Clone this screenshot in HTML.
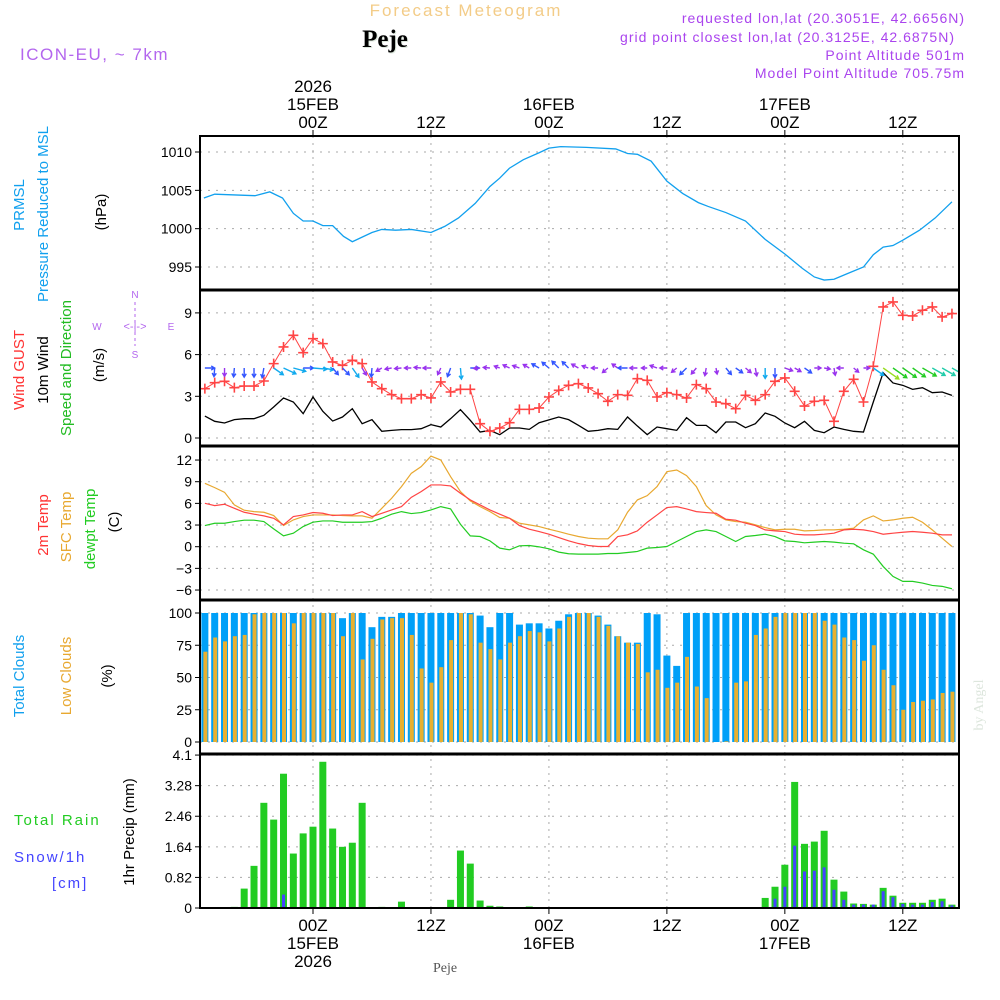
<!DOCTYPE html>
<html><head><meta charset="utf-8"><style>
html,body{margin:0;padding:0;background:#fff;}
svg{display:block;font-family:"Liberation Sans",sans-serif;}
</style></head><body>
<svg id="chart" width="1000" height="1000" viewBox="0 0 1000 1000" xmlns="http://www.w3.org/2000/svg">
<rect width="1000" height="1000" fill="#fff"/>
<g>
<text x="466" y="16" text-anchor="middle" font-size="17" fill="#f3cc88" letter-spacing="2">Forecast Meteogram</text>
<text x="386" y="48" text-anchor="middle" font-size="25" font-weight="bold" font-family="Liberation Serif,serif" fill="#dde8dd">Peje</text>
<text x="385" y="47" text-anchor="middle" font-size="25" font-weight="bold" font-family="Liberation Serif,serif" fill="#000">Peje</text>
<text x="20" y="60" font-size="17" fill="#b366ee" letter-spacing="1.5">ICON-EU, ~ 7km</text>
<text x="965" y="23" text-anchor="end" font-size="14" fill="#aa44ee" letter-spacing="1">requested lon,lat (20.3051E, 42.6656N)</text>
<text x="955" y="42" text-anchor="end" font-size="14" fill="#aa44ee" letter-spacing="1">grid point closest lon,lat (20.3125E, 42.6875N)</text>
<text x="965" y="60" text-anchor="end" font-size="14" fill="#aa44ee" letter-spacing="1">Point Altitude 501m</text>
<text x="965" y="78" text-anchor="end" font-size="14" fill="#aa44ee" letter-spacing="1">Model Point Altitude 705.75m</text>
</g>
<g font-size="15">
<text transform="translate(24,205) rotate(-90)" text-anchor="middle" fill="#11a0ee">PRMSL</text>
<text transform="translate(48,214) rotate(-90)" text-anchor="middle" fill="#11a0ee">Pressure Reduced to MSL</text>
<text transform="translate(106,212) rotate(-90)" text-anchor="middle" fill="#000">(hPa)</text>
<text transform="translate(24,370) rotate(-90)" text-anchor="middle" fill="#ff3333">Wind GUST</text>
<text transform="translate(48,370) rotate(-90)" text-anchor="middle" fill="#000">10m Wind</text>
<text transform="translate(71,368) rotate(-90)" text-anchor="middle" fill="#22bb22">Speed and Direction</text>
<text transform="translate(104,365) rotate(-90)" text-anchor="middle" fill="#000">(m/s)</text>
<g fill="#b366ee" font-size="10">
<text x="135" y="298" text-anchor="middle">N</text><text x="97" y="330" text-anchor="middle">W</text><text x="171" y="330" text-anchor="middle">E</text><text x="135" y="358" text-anchor="middle">S</text>
<text x="135" y="330" text-anchor="middle" font-size="11">&lt;-|-&gt;</text>
<line x1="135" y1="302" x2="135" y2="346" stroke="#b366ee" stroke-dasharray="3,3"/>
</g>
<text transform="translate(48,525) rotate(-90)" text-anchor="middle" fill="#ff3333">2m Temp</text>
<text transform="translate(71,527) rotate(-90)" text-anchor="middle" fill="#e8a830">SFC Temp</text>
<text transform="translate(95,529) rotate(-90)" text-anchor="middle" fill="#22cc22">dewpt Temp</text>
<text transform="translate(119,522) rotate(-90)" text-anchor="middle" fill="#000">(C)</text>
<text transform="translate(24,676) rotate(-90)" text-anchor="middle" fill="#11a0ee">Total Clouds</text>
<text transform="translate(71,676) rotate(-90)" text-anchor="middle" fill="#e8a830">Low Clouds</text>
<text transform="translate(112,676) rotate(-90)" text-anchor="middle" fill="#000">(%)</text>
<text x="14" y="825" fill="#22cc22" letter-spacing="2">Total   Rain</text>
<text x="14" y="862" fill="#4444ff" letter-spacing="2">Snow/1h</text>
<text x="52" y="888" fill="#4444ff" letter-spacing="2">[cm]</text>
<text transform="translate(134,832) rotate(-90)" text-anchor="middle" fill="#000">1hr Precip (mm)</text>
</g>
<text transform="translate(983,705) rotate(-90)" text-anchor="middle" font-size="14" font-family="Liberation Serif,serif" fill="#dde6dd">by Angel</text>
<text x="445" y="972" text-anchor="middle" font-size="14" font-family="Liberation Serif,serif" fill="#555">Peje</text>
<g id="plot"></g>
</svg>
<script>
// ---- data (hourly, t = hours from 15FEB 00Z) ----
const presTimes=[-11.1,-10,-5.9,-4.4,-3.1,-2,-1,0,1,2,3.1,4,5,6,7,8.4,10,12,13.4,14.8,16.5,18,19,20,21.4,23,24,25.2,27.8,30.8,32,33,34.4,36,37.6,39.2,40.2,42,44,46,48,49.8,51,52,53,54.3,56,57,58,59,60,61.7,63.3,65];
const presVals=[1004,1004.5,1004.3,1004.8,1004,1002,1001,1001,1000.4,1000.4,999,998.3,998.9,999.5,999.9,999.8,999.9,999.5,1000.3,1001.4,1003.3,1005.5,1006.6,1007.9,1009,1009.9,1010.5,1010.7,1010.6,1010.4,1009.8,1009.7,1008.8,1006.2,1004.6,1003.4,1002.9,1002.1,1001,998.6,996.7,994.8,993.7,993.3,993.4,994.1,995,996.6,997.6,997.8,998.5,999.8,1001.4,1003.5];
const hourStart=-11;
const gust=[3.55,3.98,4.08,3.62,3.74,3.74,4.1,5.35,6.55,7.39,6.14,7.15,6.79,5.47,5.23,5.59,5.35,4.03,3.55,3.12,2.83,2.83,3.12,2.88,4.03,3.31,3.5,3.5,1.03,0.48,0.72,1.1,2.06,2.06,2.16,2.95,3.43,3.79,3.91,3.6,3.19,2.64,3.12,3.07,4.27,4.15,2.95,3.26,3.12,2.88,3.84,3.55,2.59,2.47,2.11,3.07,2.71,3.12,4.08,4.32,3.36,2.3,2.64,2.71,1.2,3.36,4.22,2.59,5.16,9.43,9.79,8.83,8.78,9.19,9.43,8.71,8.95];
const wspd=[1.58,1.2,1.08,1.32,1.39,1.39,1.63,2.23,2.88,2.59,1.75,2.95,1.92,1.22,1.51,2.11,1.03,1.32,0.48,0.55,0.6,0.6,0.67,0.96,0.79,1.39,2.04,1.27,0.43,0.55,0.24,0.72,0.72,0.62,1.1,1.3,1.51,1.32,0.91,0.48,0.55,0.67,0.62,1.51,0.86,0.24,0.79,0.67,0.55,1.46,0.91,0.91,0.38,1.15,1.15,0.74,1.03,1.8,1.56,1.08,0.74,1.2,0.55,0.38,0.79,0.62,0.48,0.43,2.59,4.7,3.96,3.79,3.5,3.62,3.26,3.31,3.07];
const wdir=[0,95,90,95,90,90,100,35,25,15,0,5,10,50,45,55,60,95,150,170,175,180,185,180,115,110,85,0,175,185,200,205,200,210,210,220,225,225,210,200,180,140,215,180,180,180,200,180,140,135,130,100,80,50,35,40,80,90,90,20,30,35,0,10,80,180,40,0,35,35,35,35,35,30,30,30,30];
const t2m=[6.01,5.69,5.88,5.32,4.77,4.5,4.27,3.94,3.02,4.17,4.4,4.73,4.63,4.31,4.4,4.4,4.86,4.17,4.63,5.09,5.55,6.84,7.63,8.55,8.55,8.41,7.4,6.48,5.78,5.09,4.5,3.94,2.93,2.42,2.1,1.73,1.27,0.81,0.44,0.17,0.03,0.03,1.41,1.64,2.19,3.39,4.4,5.42,5.55,5.23,4.86,4.73,4.63,3.8,3.67,3.25,2.93,2.33,2.19,2.1,1.73,1.64,1.64,1.73,1.87,2.33,2.42,2.33,2.1,1.73,1.87,2.0,2.1,2.0,1.87,1.64,1.64];
const tsfc=[8.78,8.18,7.53,5.78,5.05,4.86,4.77,4.31,2.93,3.71,4.17,4.4,4.4,4.4,4.31,4.27,4.27,3.94,5.32,6.71,8.32,10.16,11.08,12.55,12.0,9.7,7.63,6.34,5.55,4.86,4.04,3.94,3.25,3.02,2.79,2.42,2.1,1.73,1.41,1.18,1.09,1.09,2.33,4.77,6.48,7.07,8.32,10.39,10.62,9.84,8.32,5.69,4.4,3.71,3.48,3.39,3.02,2.65,2.33,2.42,2.42,2.19,2.24,2.33,2.33,2.42,2.56,3.71,4.27,3.57,3.71,3.94,4.08,3.39,2.33,1.18,0.03];
const tdew=[2.93,3.25,3.25,3.48,3.67,3.67,3.48,2.47,1.5,1.87,2.79,3.39,3.57,3.57,3.39,3.39,3.39,3.48,3.94,4.5,4.86,4.59,4.73,5.09,5.55,5.23,3.11,1.5,1.41,0.81,-0.2,-0.43,0.12,0.17,-0.02,-0.29,-0.75,-0.98,-1.03,-1.03,-1.03,-0.94,-0.94,-0.8,-0.66,-0.2,-0.11,0.03,0.72,1.41,2.1,2.33,2.1,1.41,0.72,1.41,1.55,1.73,1.41,0.81,0.72,0.54,0.63,0.72,0.63,0.49,0.4,-0.43,-1.03,-2.73,-4.11,-4.8,-4.8,-5.03,-5.36,-5.49,-5.82];
const totalClouds=[100,100,100,100,100,100,100,100,100,100,100,100,100,100,96,100,100,89,97,97,100,100,100,100,100,100,100,100,98,89,100,100,91,92,92,88,94,99,100,100,98,91,82,77,77,100,99,67,59,100,100,100,100,100,100,100,100,100,100,100,100,100,100,100,100,100,100,100,100,100,100,100,100,100,100,100,100];
const lowClouds=[70,81,78,82,83,99,100,100,100,92,100,100,100,100,82,100,64,80,95,96,96,83,57,46,58,79,100,99,77,72,64,77,82,86,85,78,88,97,100,100,97,90,82,77,76,54,56,42,46,66,43,34,0,0.5,46,47,83,88,97,100,100,100,100,94,91,81,79,63,75,56,44,25,31,32,33,38,39];
const rain=[0,0,0,0.03,0.52,1.13,2.82,2.37,3.6,1.46,2.0,2.18,3.92,2.13,1.64,1.75,2.82,0,0.03,0,0.17,0,0,0,0,0.22,1.54,1.19,0.2,0.06,0.04,0,0,0.04,0,0,0,0,0,0,0,0,0,0,0,0,0,0,0,0,0,0,0,0,0,0,0,0.27,0.57,1.16,3.38,1.72,1.78,2.07,0.76,0.44,0.12,0.11,0.09,0.54,0.33,0.14,0.14,0.14,0.22,0.25,0.09];
const snow=[0,0,0,0,0,0,0,0,0.36,0,0,0,0,0,0,0,0,0,0,0,0,0,0,0,0,0,0,0,0,0,0,0,0,0,0,0,0,0,0,0,0,0,0,0,0,0,0,0,0,0,0,0,0,0,0,0,0,0,0.25,0.57,1.67,0.98,1.0,1.09,0.49,0.22,0.09,0.09,0.09,0.45,0.29,0.11,0.09,0.09,0.16,0.18,0.07];
const gridHours=[0,12,24,36,48,60];
const topTimeLabels=[["2026","15FEB","00Z"],["","","12Z"],["","16FEB","00Z"],["","","12Z"],["","17FEB","00Z"],["","","12Z"]];
const botTimeLabels=[["00Z","15FEB","2026"],["12Z","",""],["00Z","16FEB",""],["12Z","",""],["00Z","17FEB",""],["12Z","",""]];
const presTicks=[995,1000,1005,1010];
const windTicks=[0,3,6,9];
const tempTicks=[-6,-3,0,3,6,9,12];
const cloudTicks=[0,25,50,75,100];
const precipTicks=["0","0.82","1.64","2.46","3.28","4.1"];

// ---- axes ----
const L=200,R=959;
const xT=t=>313+t*9.83;
const yP=v=>152+(1010-v)*7.667;
const yW=v=>438-v*13.9;
const yT=v=>546.7-v*7.222;
const yC=v=>742-v*1.29;
const yR=v=>908-v*37.3;
const panels=[[136,290],[290,446],[446,600],[600,754],[754,908]];

const NS='http://www.w3.org/2000/svg';
const plot=document.getElementById('plot');
function mk(tag,attrs,parent){const e=document.createElementNS(NS,tag);for(const k in attrs)e.setAttribute(k,attrs[k]);(parent||plot).appendChild(e);return e;}
const clip=mk('clipPath',{id:'pc'});mk('rect',{x:L,y:136,width:R-L,height:772},clip);

// gridlines
const grid=mk('g',{});


gridHours.forEach(h=>{mk('line',{x1:xT(h),x2:xT(h),y1:136,y2:908,stroke:'#aaa','stroke-dasharray':'2,5'},grid);});
function hgrid(ticks,fy,fmt){ticks.forEach(v=>{const y=fy(+v);mk('line',{x1:L,x2:R,y1:y,y2:y,stroke:'#aaa','stroke-dasharray':'2,6'},grid);
 const tx=mk('text',{x:192,y:y+5,'text-anchor':'end','font-size':14,fill:'#000'});tx.textContent=fmt?fmt(v):v;
 
 
 mk('line',{x1:L-5,x2:L,y1:y,y2:y,stroke:'#000'},grid);});}
hgrid(presTicks,yP);hgrid(windTicks,yW);hgrid(tempTicks,yT,v=>v<0?'\u2212'+(-v):v);hgrid(cloudTicks,yC);hgrid(precipTicks,yR);

// time labels
gridHours.forEach((h,i)=>{const x=xT(h);
 topTimeLabels[i].forEach((s,j)=>{if(!s)return;const tx=mk('text',{x:x,y:92+j*18,'text-anchor':'middle','font-size':17});tx.textContent=s;
  
  });
 botTimeLabels[i].forEach((s,j)=>{if(!s)return;const tx=mk('text',{x:x,y:931+j*18,'text-anchor':'middle','font-size':17});tx.textContent=s;
  
  });
 mk('line',{x1:x,x2:x,y1:908,y2:914,stroke:'#000'});mk('line',{x1:x,x2:x,y1:130,y2:136,stroke:'#000'});
});

const g=mk('g',{'clip-path':'url(#pc)'});


function poly(xs,ys,color,name,w){const p=mk('polyline',{points:xs.map((x,i)=>x+','+ys[i]).join(' '),fill:'none',stroke:color,'stroke-width':w||1.2},g);
 
 return p;}
const hrs=gust.map((_,i)=>hourStart+i);

// pressure
poly(presTimes.map(xT),presVals.map(yP),'#11a0ee','pressure-line',1.3);
// wind
poly(hrs.map(xT),wspd.map(yW),'#000','wind-speed-line',1.3);
poly(hrs.map(xT),gust.map(yW),'#ff4444','gust-line',1);
gust.forEach((v,i)=>{const x=xT(hrs[i]),y=yW(v);
 const m=mk('path',{d:`M${x-5},${y}H${x+5}M${x},${y-5}V${y+5}`,stroke:'#ff4444','stroke-width':1.6},g);
 
 });
function wcol(s){return s<1.1?'#9933ee':s<1.8?'#3355ff':s<3?'#11aaee':s<3.5?'#22ccaa':s<4.5?'#22cc22':'#99dd22';}
wdir.forEach((d,i)=>{const x=xT(hrs[i]),y=368,len=5+3*wspd[i],a=d*Math.PI/180;
 const x2=x+len*Math.cos(a),y2=y+len*Math.sin(a);const c=wcol(wspd[i]);
 const h1=a+2.6,h2=a-2.6;
 const p=mk('path',{d:`M${x},${y}L${x2},${y2}M${x2+4*Math.cos(h1)},${y2+4*Math.sin(h1)}L${x2},${y2}L${x2+4*Math.cos(h2)},${y2+4*Math.sin(h2)}`,stroke:c,'stroke-width':1.4,fill:'none'},g);
 
 });
// temps
poly(hrs.map(xT),tsfc.map(yT),'#e8a830','sfc-temp-line');
poly(hrs.map(xT),t2m.map(yT),'#ff4444','temp-2m-line');
poly(hrs.map(xT),tdew.map(yT),'#22cc22','dewpoint-line');
// clouds
totalClouds.forEach((v,i)=>{const x=xT(hrs[i]);
 const b=mk('rect',{x:x-3.5,y:yC(v),width:7,height:yC(0)-yC(v),fill:'#00a0f8'},g);
 
 
 const o=mk('rect',{x:x-1.5,y:yC(lowClouds[i]),width:4,height:yC(0)-yC(lowClouds[i]),fill:'#e8b030'},g);
 
 });
// precip
rain.forEach((v,i)=>{const x=xT(hrs[i]);
 if(v>0){const b=mk('rect',{x:x-3.5,y:yR(v),width:7,height:yR(0)-yR(v),fill:'#22cc22'},g);
 
 }
 if(snow[i]>0){const s=mk('rect',{x:x-1.5,y:yR(snow[i]),width:3,height:yR(0)-yR(snow[i]),fill:'#4444ff'},g);
 
 }});

// frames
panels.forEach(([a,b])=>{const f=mk('rect',{x:L,y:a,width:R-L,height:b-a,fill:'none',stroke:'#000','stroke-width':2});
 
 });
[290,446,600,754].forEach(y=>mk('line',{x1:L,x2:R,y1:y,y2:y,stroke:'#000','stroke-width':3}));
</script>
</body></html>
